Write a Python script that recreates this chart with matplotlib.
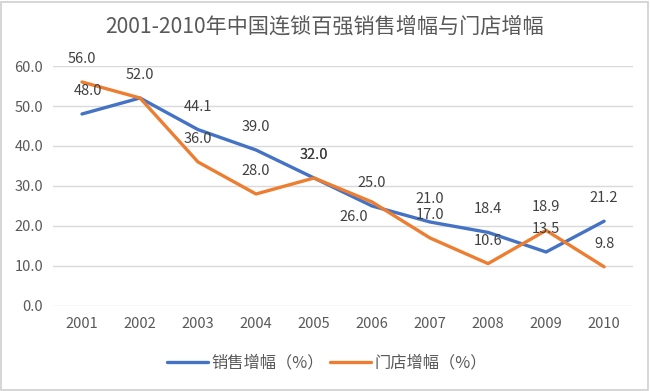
import matplotlib.pyplot as plt
from matplotlib.patches import Rectangle

plt.rcParams['font.family'] = ['Noto Sans CJK SC', 'DejaVu Sans']

years = ['2001', '2002', '2003', '2004', '2005', '2006', '2007', '2008', '2009', '2010']
sales = [48.0, 52.0, 44.1, 39.0, 32.0, 25.0, 21.0, 18.4, 13.5, 21.2]
stores = [56.0, 52.0, 36.0, 28.0, 32.0, 26.0, 17.0, 10.6, 18.9, 9.8]
sales_name = '销售增幅（%）'
stores_name = '门店增幅（%）'
title = '2001-2010年中国连锁百强销售增幅与门店增幅'

blue = '#4472C4'
orange = '#ED7D31'
txt = '#404040'

fig = plt.figure(figsize=(6.5, 3.91), dpi=100)
fig.patches.append(Rectangle((0.002, 0.003), 0.995, 0.993, transform=fig.transFigure,
                             fill=False, edgecolor='#D0D0D0', linewidth=1.2))
ax = fig.add_axes([0.0815, 0.2174, 0.8925, 0.6138])

x = range(len(years))
ax.plot(x, sales, color=blue, linewidth=2.4, label=sales_name, solid_capstyle='round', zorder=3)
ax.plot(x, stores, color=orange, linewidth=2.4, label=stores_name, solid_capstyle='round', zorder=3)

# data labels, mostly above each point
for i, v in enumerate(sales):
    dx = 4 if i == 0 else 0
    ax.annotate(f'{v:.1f}', (i, v), xytext=(dx, 16.5), textcoords='offset points',
                ha='center', va='center', fontsize=10.5, color=txt)
for i, v in enumerate(stores):
    if i == 1:
        continue  # same value as sales, one label only
    off = (-13, -11) if i == 5 else (0, 16.5)
    ax.annotate(f'{v:.1f}', (i, v), xytext=off, textcoords='offset points',
                ha='center', va='center', fontsize=10.5, color=txt)

ax.set_xlim(-0.5, len(years) - 0.5)
ax.set_ylim(0, 60)
ax.set_yticks(range(0, 61, 10))
ax.set_yticklabels([f'{t:.1f}' for t in range(0, 61, 10)])
ax.set_xticks(list(x))
ax.set_xticklabels(years)
ax.grid(axis='y', color='#D9D9D9', linewidth=1)
ax.set_axisbelow(True)
for s in ax.spines.values():
    s.set_visible(False)
ax.tick_params(length=0, labelsize=10.5, colors='#595959')
ax.tick_params(axis='x', pad=8)
ax.tick_params(axis='y', pad=7)

fig.text(0.5, 0.931, title, ha='center', va='center', fontsize=15.2, color='#595959')
fig.legend(loc='center', bbox_to_anchor=(0.503, 0.072), ncol=2, frameon=False,
           fontsize=11.7, labelcolor='#595959', handlelength=2.5, columnspacing=0.4,
           handletextpad=0.2)

fig.savefig('out.png', dpi=100)
